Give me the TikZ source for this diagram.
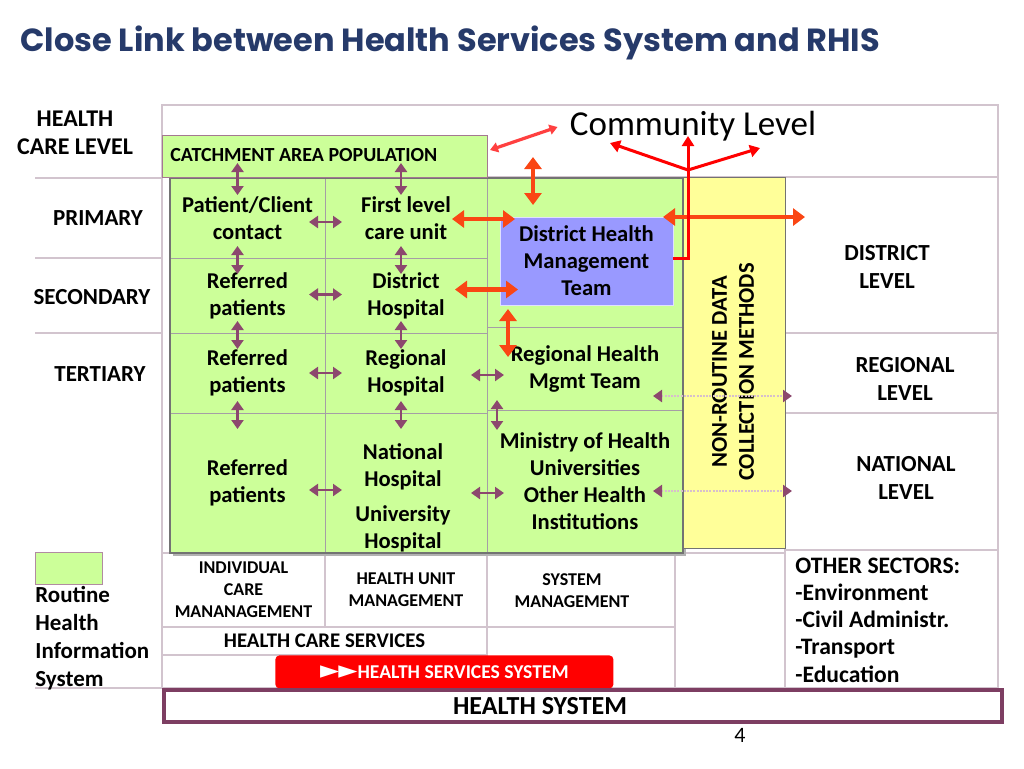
\documentclass[tikz,border=0pt]{standalone}
\usepackage{fontspec}
\setmainfont{Carlito}
\newfontfamily\titlefont{Poppins}
\newfontfamily\symfont{DejaVu Sans}
\usetikzlibrary{arrows.meta,positioning,calc}
\definecolor{rgreen}{RGB}{204,255,153}
\definecolor{nryellow}{RGB}{255,255,153}
\definecolor{dhblue}{RGB}{153,153,255}
\definecolor{gridc}{RGB}{210,196,206}
\definecolor{cellc}{RGB}{165,158,165}
\definecolor{mauve}{RGB}{140,72,110}
\definecolor{orarr}{RGB}{250,70,20}
\definecolor{titleblue}{RGB}{38,58,106}
\definecolor{hsframe}{RGB}{125,62,98}

\begin{document}
\begin{tikzpicture}[x=0.5pt, y=-0.5pt,
    font=\bfseries\fontsize{11.3}{13.5}\selectfont,
    cell/.style 2 args={draw=cellc, fill=rgreen, anchor=north west, outer sep=0pt, inner sep=0pt, minimum width=#1, minimum height=#2, align=center},
    box/.style 2 args={draw=gridc, line width=0.8pt, fill=white, anchor=north west, outer sep=0pt, inner sep=0pt, minimum width=#1, minimum height=#2, align=center},
    lbl/.style={align=center, inner sep=0pt},
    capsm/.style={lbl, font=\bfseries\fontsize{9}{11}\selectfont},
    lvl/.style={lbl, font=\bfseries\fontsize{11.5}{14}\selectfont},
    parr/.style={draw=mauve, line width=1.4pt, {Triangle[length=4.5pt,width=6pt]}-{Triangle[length=4.5pt,width=6pt]}},
    oarr/.style={draw=orarr, line width=2.4pt, {Triangle[length=6pt,width=8.5pt]}-{Triangle[length=6pt,width=8.5pt]}},
    rarr/.style={draw=red, line width=1.5pt, -{Triangle[length=5pt,width=6pt]}},
    rdarr/.style={draw=red!75, line width=1.6pt, {Triangle[length=4pt,width=5pt]}-{Triangle[length=4pt,width=5pt]}},
    darr/.style={draw=mauve!35, line width=1.2pt, dash pattern=on 1pt off 0.6pt, {Triangle[length=4.5pt,width=6pt,color=mauve]}-{Triangle[length=4.5pt,width=6pt,color=mauve]}},
  ]
  \useasboundingbox (0,0) rectangle (1024,768);
  % --- title ---
  \node[lbl, anchor=west, text=titleblue, font=\titlefont\bfseries\fontsize{16}{19}\selectfont] (title) at (20,43) {Close Link between Health Services System and RHIS};
  % --- frame ---
  \node[box={418pt}{36pt}] (comrow) at (162,105) {};
  \foreach \y in {178,258,333,688} \draw[gridc, line width=1pt] (35,\y) -- (162,\y);
  \draw[gridc, line width=1pt] (162,177) -- (162,688);
  % --- bottom cells ---
  \node[box={81.5pt}{37pt}, capsm] (icm) at (162,553) {INDIVIDUAL\\CARE\\MANANAGEMENT};
  \node[box={81pt}{37pt}, capsm] (hum) at (325,553) {HEALTH UNIT\\MANAGEMENT};
  \node[box={94pt}{37pt}] (sm) at (487,553) {};
  \node[capsm] (smt) at (572,591) {SYSTEM\\MANAGEMENT};
  \node[box={55pt}{67.5pt}] (gapa) at (675,553) {};
  \node[box={162.5pt}{14pt}, font=\bfseries\fontsize{10.4}{12}\selectfont] (hcs) at (162,627) {HEALTH CARE SERVICES};
  \node[box={94pt}{30.5pt}] (gapb) at (487,627) {};
  \node[box={162.5pt}{16.5pt}] (gapc) at (162,655) {};
  \node[fill=red, rounded corners=2pt, anchor=north west, minimum width=169pt, minimum height=16.5pt, inner sep=0pt, text=white, font=\bfseries\fontsize{9.8}{11}\selectfont] (hss) at (275,655) {{\symfont\fontsize{12.5}{12}\selectfont ►\kern-0.5pt►}HEALTH SERVICES SYSTEM};
  % --- right levels ---
  \node[box={106.5pt}{78pt}] (dlev) at (785,177) {};
  \node[box={106.5pt}{40pt}] (rlev) at (785,333) {};
  \node[box={106.5pt}{68.5pt}] (nlev) at (785,413) {};
  \node[box={106.5pt}{69pt}] (osec) at (785,550) {};
  \node[lvl] (dlt) at (887,267) {DISTRICT\\LEVEL};
  \node[lvl] (rlt) at (905,379) {REGIONAL\\LEVEL};
  \node[lvl] (nlt) at (906,478) {NATIONAL\\LEVEL};
  \node[lvl, align=left, anchor=west, font=\bfseries\fontsize{11.8}{13.6}\selectfont] (ost) at (795,620) {OTHER SECTORS:\\-Environment\\-Civil Administr.\\-Transport\\-Education};
  % --- green RHIS grid ---
  \fill[black!30] (173,181) rectangle (686,556);
  \node[cell={77.5pt}{40pt}] (c11) at (170,178) {Patient/Client\\contact};
  \node[cell={81pt}{40pt}] (c12) at (325,178) {First level\\care unit};
  \node[cell={77.5pt}{37.5pt}] (c21) at (170,258) {Referred\\patients};
  \node[cell={81pt}{37.5pt}] (c22) at (325,258) {District\\Hospital};
  \node[cell={77.5pt}{40pt}] (c31) at (170,333) {Referred\\patients};
  \node[cell={81pt}{40pt}] (c32) at (325,333) {Regional\\Hospital};
  \node[cell={77.5pt}{70pt}] (c41) at (170,413) {Referred\\patients};
  \node[cell={81pt}{70pt}] (c42) at (325,413) {};
  \node[lbl] (nuh) at (403,498) {National\\Hospital\\[4pt]University\\Hospital};
  \node[cell={98pt}{74.5pt}] (c13) at (487,178) {};
  \node[cell={98pt}{41.5pt}] (c33) at (487,327) {Regional Health\\Mgmt Team};
  \node[cell={98pt}{71.5pt}] (c43) at (487,410) {Ministry of Health\\Universities\\Other Health\\Institutions};
  \draw[black!55, line width=0.8pt] (170,178) rectangle (683,553);
  \node[draw=black!55, fill=nryellow, anchor=north west, minimum width=51pt, minimum height=185.5pt, outer sep=0pt] (nrd) at (683,177) {};
  \node[lbl, rotate=90] (nrdt) at (733,372) {NON-ROUTINE DATA\\COLLECTION METHODS};
  \node[draw=hsframe!70, fill=rgreen, anchor=north west, minimum width=162.5pt, minimum height=21pt, outer sep=0pt, inner sep=0pt] (catch) at (162,135) {};
  \node[lbl, anchor=west, font=\bfseries\fontsize{10}{12}\selectfont] (catcht) at (170,155) {CATCHMENT AREA POPULATION};
  \node[draw=white!70!dhblue, fill=dhblue, minimum width=86.5pt, minimum height=44pt, inner sep=0pt, outer sep=0pt, align=center] (dhmt) at (586.5,261) {District Health\\Management\\Team};
  % --- left labels ---
  \node[lbl, font=\bfseries\fontsize{12}{14}\selectfont] (hcl) at (75,133) {HEALTH\\CARE LEVEL};
  \node[lvl] (prim) at (98,218) {PRIMARY};
  \node[lvl] (secd) at (92,297) {SECONDARY};
  \node[lvl] (tert) at (100,374) {TERTIARY};
  \node[draw=hsframe!60, fill=rgreen, anchor=north west, minimum width=33.5pt, minimum height=16pt, outer sep=0pt] (leg) at (35,552) {};
  \node[lvl, align=left, anchor=west] (legt) at (35,638) {Routine\\Health\\Information\\System};
  \node[lbl, font=\fontsize{17.5}{20}\selectfont] (comm) at (693,126) {Community Level};
  % --- health system ---
  \node[draw=hsframe, line width=2pt, fill=white, anchor=north west, minimum width=419pt, minimum height=16pt, inner sep=0pt] (hs) at (162,688) {};
  \node[lbl, font=\bfseries\fontsize{13}{15}\selectfont] (hst) at (540,706) {HEALTH SYSTEM};
  \node[font=\fontsize{11}{13}\selectfont] (pg) at (740,735) {4};
  % --- purple links ---
  \foreach \dst/\dx in {c11/-10,c12/-5} \draw[parr] ($(catch.south -| \dst)+(\dx,-14)$) -- ($(\dst.north)+(\dx,17)$);
  \foreach \src/\dst/\dx in {c11/c21/-10,c21/c31/-10,c31/c41/-10,c12/c22/-5,c22/c32/-5,c32/c42/-5}
    \draw[parr] ($(\src.south)+(\dx,-12)$) -- ($(\dst.north)+(\dx,16)$);
  \foreach \src/\dst/\dy in {c11/c12/4,c21/c22/-1,c31/c32/0,c41/c42/7,c32/c33/2,c42/c43/10}
    \draw[parr] ($(\src.east)+(-16,\dy)$) -- ($(\dst.west |- \src.east)+(17,\dy)$);
  \draw[parr] ($(c33.south west)+(10,-10)$) -- ($(c43.north west)+(10,20)$);
  \draw[darr] ($(c33)+(68,27.5)$) -- ($(rlev.west |- c33)+(7,27.5)$);
  \draw[darr] ($(c43)+(68,9.5)$) -- ($(nlev.west |- c43)+(7,9.5)$);
  % --- orange links ---
  \draw[oarr] ($(c12.east)+(-35,1)$) -- ($(dhmt.west |- c12.east)+(15,1)$);
  \draw[oarr] ($(c22.east)+(-32,-6)$) -- ($(dhmt.west |- c22.east)+(18,-6)$);
  \draw[oarr] ($(comrow.south -| dhmt.north)+(-53.5,-20)$) -- ($(dhmt.north)+(-53.5,-12)$);
  \draw[oarr] ($(dhmt.south)+(-78.5,4)$) -- ($(c33.north -| dhmt.south)+(-78.5,30)$);
  \draw[oarr] ($(dhmt.north east)+(-10,0)$) -- ($(dlev.west |- dhmt.north east)+(20,0)$);
  % --- community links ---
  \coordinate (fork) at (688,170);
  \coordinate (brl) at (610,143);
  \coordinate (brt) at (688,136);
  \coordinate (brr) at (760,148);
  \draw[rarr] ($(dhmt.east)+(0,-3)$) -| (brt);
  \draw[rarr] (fork) -- (brl);
  \draw[rarr] (fork) -- (brr);
  \draw[rdarr] ($(catch.north east)+(3,15)$) -- ($(comm.west)+(-12,1)$);
\end{tikzpicture}
\end{document}
